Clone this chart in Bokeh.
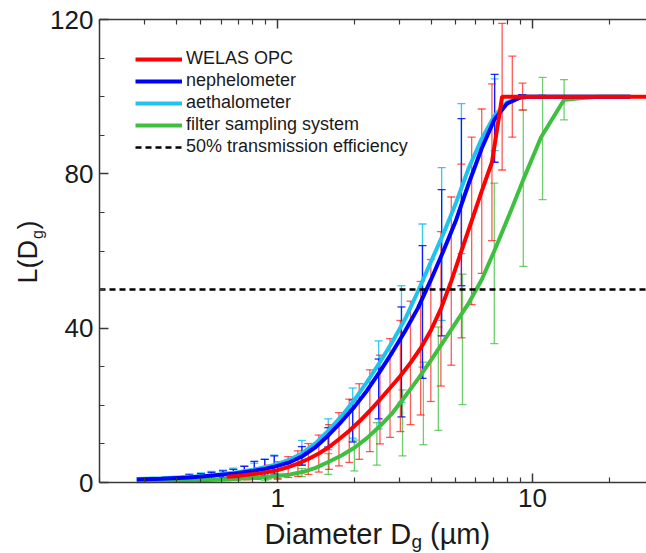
import math
from bokeh.plotting import figure
from bokeh.models import (Range1d, LogAxis, FixedTicker, SingleIntervalTicker, Whisker, TeeHead,
                          ColumnDataSource, Legend, LegendItem, Label)
from bokeh.embed import file_html
from bokeh.resources import INLINE

# ---------------- data ----------------
X_MIN, X_MAX = 0.2, 28.0
Y_MIN, Y_MAX = 0, 120
THRESHOLD = 50
x_major = [1, 10]
x_minor = [0.2, 0.3, 0.4, 0.5, 0.6, 0.7, 0.8, 0.9, 2, 3, 4, 5, 6, 7, 8, 9, 20]
x_labels = {1: "1", 10: "10"}

# WELAS OPC: curve points with symmetric uncertainty (0 = no bar)
d_welas = [0.632, 0.693, 0.760, 0.833, 0.914, 1.00, 1.10, 1.20, 1.32, 1.45, 1.59, 1.74, 1.91, 2.09,
           2.30, 2.52, 2.76, 3.03, 3.32, 3.64, 3.99, 4.37, 4.80, 5.26, 5.77, 6.32, 6.93, 7.60, 8.33,
           9.14, 11.0, 14.0, 20.0, 28.0]
L_welas = [1.5, 1.7, 2.0, 2.3, 2.7, 3.2, 4.0, 4.9, 6.1, 7.5, 9.2, 11.2, 13.4, 15.8,
           18.6, 21.5, 24.5, 27.6, 31.0, 34.8, 39.4, 45.0, 52.2, 60.0, 67.8, 75.5, 83.0, 100, 100,
           100, 100, 100, 100, 100]
e_welas = [1.0, 1.1, 1.3, 1.5, 1.8, 2.2, 2.7, 3.3, 4.0, 4.8, 5.8, 6.9, 8.2, 9.8,
           10.6, 11.5, 12.8, 14.4, 16.0, 17.3, 18.4, 20.0, 21.8, 22.5, 21.7, 21.3, 20.3, 19.0, 10.5,
           3.5, 0, 0, 0, 0]

# nephelometer: fitted curve
d_neph = [0.28, 0.35, 0.45, 0.56, 0.67, 0.80, 0.90, 1.00, 1.12, 1.25, 1.41, 1.58, 1.78, 2.00,
          2.24, 2.51, 2.82, 3.16, 3.55, 3.98, 4.47, 5.01, 5.62, 6.31, 7.08, 7.94, 9.10, 24.2]
L_neph = [0.8, 1.0, 1.3, 1.8, 2.3, 3.0, 3.6, 4.3, 5.3, 6.8, 9.2, 12.2, 15.8, 19.6,
          23.8, 28.6, 33.8, 39.2, 45.2, 52.3, 60.0, 68.0, 77.5, 86.5, 94.0, 98.2, 100, 100]
# nephelometer: measured ranges
d_neph_bar = [0.45, 0.50, 0.55, 0.61, 0.67, 0.74, 0.81, 0.89, 0.97, 1.245, 1.58, 1.97, 2.49, 3.06,
              3.70, 4.40, 5.26, 7.10, 9.10, 10.9, 13.3, 17.9, 24.2]
lo_neph = [0.8, 0.9, 1.0, 1.2, 1.3, 1.4, 1.5, 1.8, 2.2, 4.5, 9.2, 10.5, 16.5, 17.0,
           27.0, 38.0, 51.0, 83.0, 99.5, 99.7, 99.8, 99.8, 99.8]
hi_neph = [2.0, 2.3, 2.6, 3.0, 3.4, 4.2, 5.5, 6.0, 6.9, 9.3, 14.2, 21.4, 32.0, 45.5,
           61.4, 75.9, 94.3, 105.8, 100.5, 100.3, 100.2, 100.2, 100.2]

# aethalometer: fitted curve
d_aeth = [0.28, 0.35, 0.45, 0.56, 0.67, 0.80, 0.90, 1.00, 1.12, 1.25, 1.41, 1.58, 1.78, 2.00,
          2.24, 2.51, 2.82, 3.16, 3.55, 3.98, 4.47, 5.01, 5.62, 6.31, 7.08, 7.94, 9.10, 24.2]
L_aeth = [0.9, 1.1, 1.4, 1.9, 2.5, 3.3, 4.0, 4.8, 6.0, 7.6, 10.2, 13.4, 17.2, 21.4,
          26.0, 31.0, 36.5, 42.3, 49.5, 57.0, 64.5, 72.5, 81.5, 89.0, 95.0, 98.5, 100, 100]
# aethalometer: measured ranges
d_aeth_bar = [0.45, 0.50, 0.55, 0.61, 0.67, 0.74, 0.81, 0.89, 0.97, 1.245, 1.58, 1.97, 2.49, 3.06,
              3.70, 4.40, 5.26, 7.10, 9.10, 10.9, 13.3, 17.9, 24.2]
lo_aeth = [0.9, 1.0, 1.1, 1.3, 1.5, 1.7, 2.0, 2.3, 2.6, 4.5, 8.5, 11.5, 13.9, 20.8,
           29.9, 42.0, 59.3, 86.0, 99.5, 99.7, 99.8, 99.8, 99.8]
hi_aeth = [2.2, 2.5, 2.9, 3.2, 3.7, 4.3, 5.0, 6.0, 7.1, 10.9, 16.5, 24.5, 36.7, 51.0,
           67.0, 81.6, 98.2, 104.6, 100.5, 100.3, 100.2, 100.2, 100.2]

# filter sampling system: fitted curve
d_filt = [0.28, 0.35, 0.45, 0.56, 0.67, 0.80, 0.90, 1.00, 1.12, 1.25, 1.41, 1.58, 1.78, 2.00,
          2.24, 2.51, 2.82, 3.16, 3.55, 3.98, 4.47, 5.01, 5.62, 6.31, 7.08, 8.12, 9.20, 10.8,
          13.3, 17.9, 24.2]
L_filt = [0.3, 0.4, 0.5, 0.7, 0.9, 1.2, 1.4, 1.7, 2.1, 2.7, 3.8, 5.3, 7.0, 9.0,
          11.5, 14.5, 18.0, 22.3, 26.8, 31.5, 36.5, 41.5, 46.5, 52.5, 60.0, 69.5, 78.5, 89.5,
          99.2, 100, 100]
# filter sampling system: measured ranges
d_filt_bar = [0.89, 1.00, 1.245, 1.58, 2.00, 2.45, 3.09, 3.73, 4.27, 5.31, 7.08, 9.20, 10.95, 13.3]
lo_filt = [0.6, 0.8, 1.5, 2.1, 3.0, 4.5, 6.9, 9.8, 13.5, 20.2, 36.0, 56.0, 73.3, 94.0]
hi_filt = [1.8, 2.2, 3.6, 7.5, 11.0, 15.5, 24.0, 31.2, 40.3, 54.0, 77.6, 96.6, 105.0, 104.4]

labels = ["WELAS OPC", "nephelometer", "aethalometer", "filter sampling system",
          "50% transmission efficiency"]

# ---------------- geometry / styling ----------------
C_RED, C_BLUE, C_CYAN, C_GREEN = "#ff0000", "#0000ff", "#1ec3f0", "#3fbf3f"
FONT = "Liberation Sans"
TXT = "#1a1a1a"
AX = "#383838"

W, H = 646, 553
AX_LEFT, AX_RIGHT, AX_TOP, AX_BOTTOM = 99, 646, 19, 482

lx0, lx1 = math.log10(X_MIN), math.log10(X_MAX)
ppd = (AX_RIGHT - AX_LEFT) / (lx1 - lx0)
ppu = (AX_BOTTOM - AX_TOP) / (Y_MAX - Y_MIN)
x_start = 10 ** (lx0 - AX_LEFT / ppd)
x_end = 10 ** (lx1 + (W - AX_RIGHT) / ppd)
y_start = Y_MIN - (H - AX_BOTTOM) / ppu
y_end = Y_MAX + AX_TOP / ppu


def px2x(px):
    return 10 ** (lx0 + (px - AX_LEFT) / ppd)


def py2y(py):
    return Y_MIN + (AX_BOTTOM - py) / ppu


p = figure(width=W, height=H, x_axis_type="log",
           x_range=Range1d(x_start, x_end), y_range=Range1d(y_start, y_end),
           output_backend="svg", toolbar_location=None,
           min_border_left=0, min_border_right=0, min_border_top=0, min_border_bottom=0)
p.outline_line_color = None
p.grid.visible = False
p.background_fill_color = "white"
p.border_fill_color = "white"

xt = FixedTicker(ticks=x_major, minor_ticks=x_minor)


def style_axis(ax, show_labels=True):
    ax.axis_line_color = AX
    ax.axis_line_width = 1.5
    ax.major_tick_line_color = AX
    ax.minor_tick_line_color = AX
    ax.major_tick_line_width = 1.5
    ax.minor_tick_line_width = 1.2
    ax.major_tick_in = 9
    ax.major_tick_out = 0
    ax.minor_tick_in = 5
    ax.minor_tick_out = 0
    ax.major_label_text_font = FONT
    ax.major_label_text_color = TXT
    if show_labels:
        ax.major_label_text_font_size = "26px"
        ax.major_label_standoff = 6
    else:
        ax.major_label_text_font_size = "2px"
        ax.major_label_text_alpha = 0
        ax.major_label_standoff = 0


xa = p.xaxis[0]
xa.ticker = xt
xa.major_label_overrides = x_labels
xa.fixed_location = Y_MIN
xa.bounds = (X_MIN, X_MAX)
style_axis(xa)

ya = p.yaxis[0]
ya.ticker = SingleIntervalTicker(interval=40, num_minor_ticks=4)
ya.fixed_location = X_MIN
ya.bounds = (Y_MIN, Y_MAX)
style_axis(ya)

top = LogAxis(ticker=xt, fixed_location=Y_MAX, bounds=(X_MIN, X_MAX))
style_axis(top, show_labels=False)
p.add_layout(top, "above")


# ---------------- error bars ----------------
def errorbars(d, lo, hi, color, alpha):
    src = ColumnDataSource(dict(x=d, lo=lo, hi=hi))
    w = Whisker(source=src, base="x", lower="lo", upper="hi", dimension="height",
                line_color=color, line_alpha=alpha, line_width=1.3, level="underlay",
                lower_head=TeeHead(size=8, line_color=color, line_alpha=alpha, line_width=1.3),
                upper_head=TeeHead(size=8, line_color=color, line_alpha=alpha, line_width=1.3))
    p.add_layout(w)


welas_bar = [(d, l, e) for d, l, e in zip(d_welas, L_welas, e_welas) if e > 0]

errorbars(d_filt_bar, lo_filt, hi_filt, C_GREEN, 0.75)
errorbars(d_aeth_bar, lo_aeth, hi_aeth, C_CYAN, 0.9)
errorbars(d_neph_bar, lo_neph, hi_neph, C_BLUE, 0.85)
errorbars([b[0] for b in welas_bar], [b[1] - b[2] for b in welas_bar],
          [b[1] + b[2] for b in welas_bar], C_RED, 0.65)

# ---------------- lines ----------------
r_filt = p.line(d_filt, L_filt, line_color=C_GREEN, line_width=4)
r_aeth = p.line(d_aeth, L_aeth, line_color=C_CYAN, line_width=4)
r_neph = p.line(d_neph, L_neph, line_color=C_BLUE, line_width=4)
r_welas = p.line(d_welas, L_welas, line_color=C_RED, line_width=4)
r_thr = p.line([X_MIN, X_MAX], [THRESHOLD, THRESHOLD], line_color="black", line_width=2.5,
               line_dash="6 4")

# legend: rows centred at y = 58.5 ... 146.5 px, glyph from x = 135 px
ROW = 22
LEG_TOP = 47.5
legend = Legend(items=[LegendItem(label=labels[0], renderers=[r_welas]),
                       LegendItem(label=labels[1], renderers=[r_neph]),
                       LegendItem(label=labels[2], renderers=[r_aeth]),
                       LegendItem(label=labels[3], renderers=[r_filt]),
                       LegendItem(label=labels[4], renderers=[r_thr])],
                location=(135, H - LEG_TOP - 5 * ROW), glyph_width=47, glyph_height=ROW,
                label_height=ROW, label_width=10, spacing=0, padding=0, margin=0,
                label_standoff=4, border_line_color=None, background_fill_alpha=0,
                label_text_font=FONT, label_text_font_size="18px", label_text_color=TXT)
p.add_layout(legend)


# ---------------- axis titles (with subscripts) ----------------
def lab(px, py, text, size, angle=0.0):
    p.add_layout(Label(x=px2x(px), y=py2y(py), text=text, text_font=FONT, text_font_size=size,
                       text_color=TXT, text_align="left", text_baseline="alphabetic",
                       angle=angle))


# x title: "Diameter D_g (µm)"
lab(264, 533.5, "Diameter D", "29px")
lab(411, 541, "g", "19px")
lab(429.5, 533.5, "(µm)", "29px")

# y title: "L(D_g)" rotated
lab(27, 283, "L(D", "27px", math.pi / 2)
lab(37, 238.5, "g", "16px", math.pi / 2)
lab(27, 229, ")", "27px", math.pi / 2)

open("out.html", "w").write(file_html(p, INLINE))
